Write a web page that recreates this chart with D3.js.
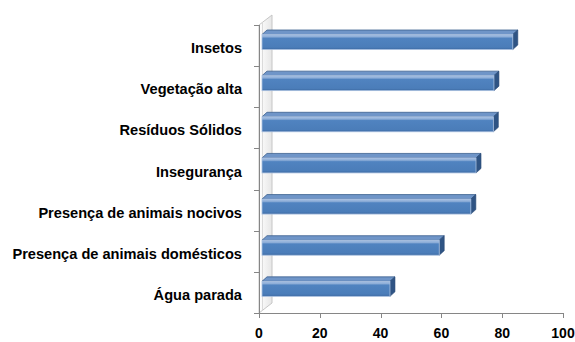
<!DOCTYPE html>
<html><head><meta charset="utf-8">
<script src="https://cdn.jsdelivr.net/npm/d3@7"></script>
<style>body{margin:0;background:#fff}svg{display:block}</style>
</head><body>
<script>
const categories = ["Insetos","Vegetação alta","Resíduos Sólidos","Insegurança","Presença de animais nocivos","Presença de animais domésticos","Água parada"];
const values = [82.5, 76.3, 76.1, 70.4, 68.7, 58.3, 42.1];
const xTicks = [0,20,40,60,80,100];

const W=575,H=342;
const svg=d3.select("body").append("svg").attr("width",W).attr("height",H);
const x=d3.scaleLinear().domain([0,100]).range([259,563]);
const y=d3.scaleBand().domain(categories).range([25,313]).paddingInner(0);
const font="'Liberation Sans', Arial, sans-serif";

const defs=svg.append("defs");
const gf=defs.append("linearGradient").attr("id","front").attr("x1",0).attr("y1",0).attr("x2",0).attr("y2",1);
[[0,"#a6c0e3"],[0.15,"#8eaed8"],[0.25,"#5083c0"],[0.85,"#4b7db9"],[1,"#3d6aa3"]].forEach(s=>gf.append("stop").attr("offset",s[0]).attr("stop-color",s[1]));
const gw=defs.append("linearGradient").attr("id","wall").attr("x1",0).attr("y1",0).attr("x2",1).attr("y2",0);
[[0,"#ffffff"],[1,"#e6e6e6"]].forEach(s=>gw.append("stop").attr("offset",s[0]).attr("stop-color",s[1]));

// back wall
const wdx=13, wdy=10;
svg.append("path")
  .attr("d",`M${x(0)},${y.range()[0]} L${x(0)+wdx},${y.range()[0]-wdy} L${x(0)+wdx},${y.range()[1]-wdy} L${x(0)},${y.range()[1]} Z`)
  .attr("fill","url(#wall)").attr("stroke","#c6c6c6").attr("stroke-width",1);
svg.append("line").attr("x1",x(0)+3.5).attr("x2",x(0)+3.5).attr("y1",y.range()[0]-2.5).attr("y2",y.range()[1]-2.5)
  .attr("stroke","#dadada").attr("stroke-width",1);

// bars
const ox=3, bdx=5, bdy=4.5, fy=9.5, fh=15;
const bars=svg.append("g").selectAll("g").data(categories).join("g");
bars.each(function(c,i){
  const g=d3.select(this);
  const x0=x(0)+ox, x1=x(values[i])+ox, t=y(c)+fy, b=t+fh;
  g.append("path").attr("d",`M${x0},${t} L${x0+bdx},${t-bdy} L${x1+bdx},${t-bdy} L${x1},${t} Z`)
    .attr("fill","#6f95c8").attr("stroke","#3b5f8e").attr("stroke-width",0.8);
  g.append("path").attr("d",`M${x1},${t} L${x1+bdx},${t-bdy} L${x1+bdx},${b-bdy} L${x1},${b} Z`)
    .attr("fill","#2f5484").attr("stroke","#2a4a75").attr("stroke-width",0.6);
  g.append("rect").attr("x",x0).attr("y",t).attr("width",x1-x0).attr("height",fh)
    .attr("fill","url(#front)").attr("stroke","#a9c0e0").attr("stroke-width",0.8);
});

// axes
const axc="#868686";
svg.append("line").attr("x1",x(0)+0.5).attr("x2",x(0)+0.5).attr("y1",y.range()[0]).attr("y2",y.range()[1]).attr("stroke",axc);
svg.append("line").attr("x1",x(0)).attr("x2",x(100)).attr("y1",313.5).attr("y2",313.5).attr("stroke",axc);
const bounds=categories.map(c=>y(c)).concat([y.range()[1]]);
svg.append("g").selectAll("line").data(bounds).join("line")
  .attr("x1",x(0)-5).attr("x2",x(0)).attr("y1",d=>Math.round(d)+0.5).attr("y2",d=>Math.round(d)+0.5).attr("stroke",axc);
svg.append("g").selectAll("line").data(xTicks).join("line")
  .attr("x1",d=>Math.round(x(d))+0.5).attr("x2",d=>Math.round(x(d))+0.5).attr("y1",313).attr("y2",318).attr("stroke",axc);
svg.append("g").selectAll("text").data(xTicks).join("text")
  .attr("x",d=>x(d)).attr("y",338).attr("text-anchor","middle")
  .attr("font-family",font).attr("font-weight","bold").attr("font-size",14).attr("fill","#000").text(d=>d);
svg.append("g").selectAll("text").data(categories).join("text")
  .attr("x",242).attr("y",c=>y(c)+y.bandwidth()/2+7.5).attr("text-anchor","end")
  .attr("font-family",font).attr("font-weight","bold").attr("font-size",14.6).attr("fill","#000").text(c=>c);
</script>
</body></html>
